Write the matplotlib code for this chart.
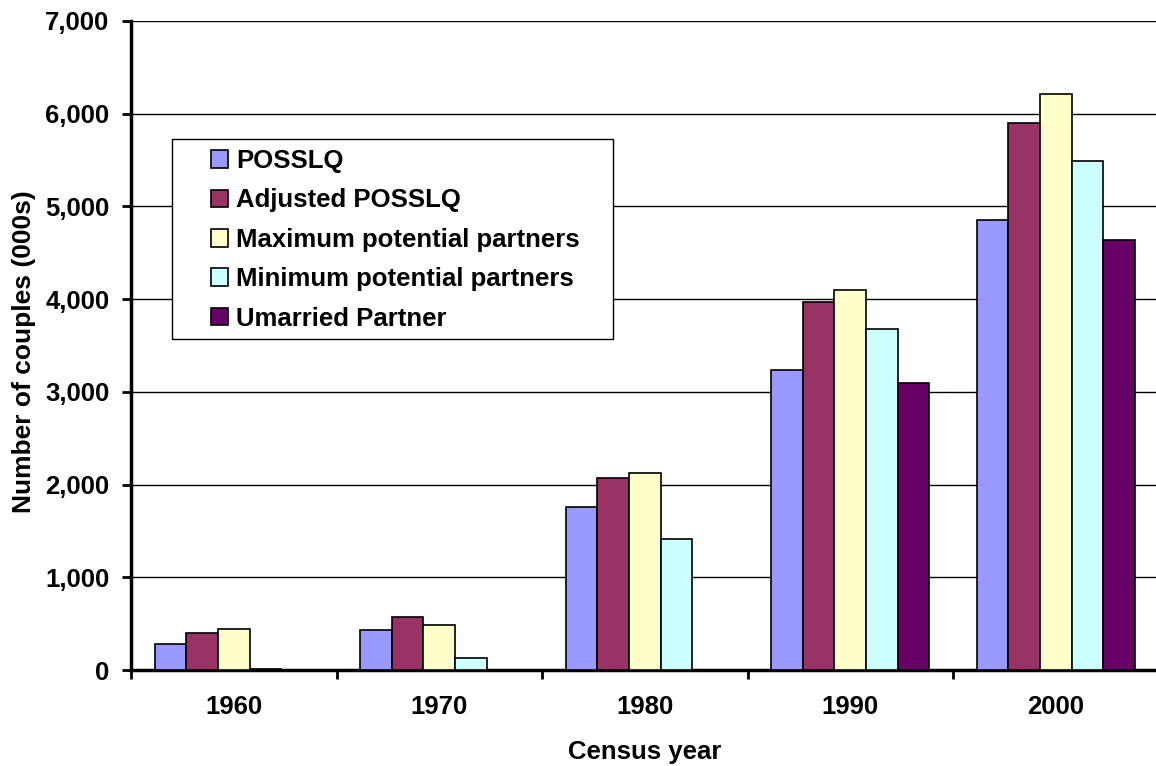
import numpy as np
import matplotlib
matplotlib.use('Agg')
import matplotlib.pyplot as plt
from matplotlib.patches import Rectangle
from matplotlib.ticker import FuncFormatter

years = ['1960', '1970', '1980', '1990', '2000']
series_names = ['POSSLQ', 'Adjusted POSSLQ', 'Maximum potential partners',
                'Minimum potential partners', 'Umarried Partner']
possl = [277, 433, 1755, 3232, 4856]
adjusted = [400, 573, 2072, 3968, 5900]
max_partners = [439, 482, 2126, 4103, 6216]
min_partners = [12, 126, 1411, 3681, 5493]
unmarried = [0, 0, 0, 3100, 4641]
colors = ['#9999FF', '#993366', '#FFFFCC', '#CCFFFF', '#660066']

plt.rcParams['font.family'] = ['Liberation Sans', 'DejaVu Sans']
plt.rcParams['font.weight'] = 'bold'

W, H = 1156, 766
fs = 18.5
fig = plt.figure(figsize=(W / 100, H / 100), dpi=100)
ax = fig.add_axes([131 / W, 1 - 670 / H, 1027.5 / W, 649 / H])

data = [possl, adjusted, max_partners, min_partners, unmarried]
x = np.arange(len(years))
bw = 1 / 6.5
for i, (vals, name, c) in enumerate(zip(data, series_names, colors)):
    ax.bar(x + (i - 2) * bw, vals, width=bw, color=c, edgecolor='black',
           linewidth=1.2, label=name, zorder=3)

ax.set_xlim(-0.5, 4.5)
ax.set_ylim(0, 7000)
ax.set_yticks(np.arange(0, 7001, 1000))
ax.yaxis.set_major_formatter(FuncFormatter(lambda v, p: f'{int(v):,}'))
ax.grid(axis='y', color='black', linewidth=1.0, zorder=0)
ax.set_axisbelow(True)

# category boundaries get the ticks, centres get the labels
ax.set_xticks(np.arange(-0.5, 5, 1))
ax.set_xticklabels([])
ax.set_xticks(x, minor=True)
ax.set_xticklabels(years, minor=True)
ax.tick_params(axis='x', which='major', direction='out', length=6.5, width=2)
ax.tick_params(axis='x', which='minor', length=0, pad=18, labelsize=fs)
ax.tick_params(axis='y', direction='out', length=6.5, width=2, pad=9, labelsize=fs)

for s in ['top', 'right']:
    ax.spines[s].set_visible(False)
for s in ['left', 'bottom']:
    ax.spines[s].set_linewidth(2.5)

fig.text(645 / W, 7 / H, 'Census year', ha='center', va='baseline',
         fontsize=fs, fontweight='bold')
fig.text(31 / W, 1 - 352 / H, 'Number of couples (000s)', rotation=90,
         rotation_mode='anchor', ha='center', va='baseline',
         fontsize=fs + 0.5, fontweight='bold')

# legend box
box = Rectangle((172 / W, 1 - 339 / H), 441 / W, 200 / H, transform=fig.transFigure,
                facecolor='white', edgecolor='black', linewidth=1.0, zorder=2,
                clip_on=False)
ax.add_patch(box)
leg = ax.legend(loc='upper left', bbox_to_anchor=(211 / W, 1 - 149 / H),
                bbox_transform=fig.transFigure, frameon=False, fontsize=fs,
                handlelength=0.68, handleheight=0.68, handletextpad=0.3,
                labelspacing=0.6, borderpad=0, borderaxespad=0)
leg.set_zorder(5)
for t in leg.get_texts():
    t.set_fontweight('bold')

fig.savefig('out.png', dpi=100)
